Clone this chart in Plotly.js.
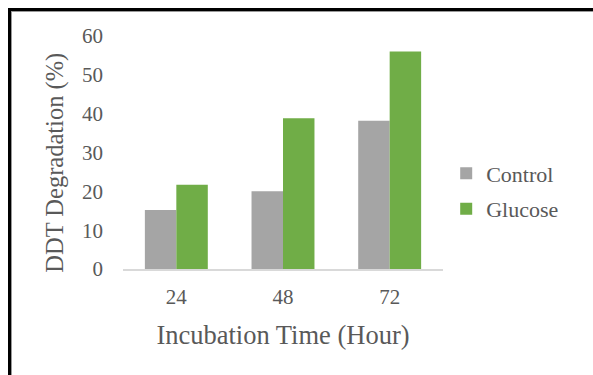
<!DOCTYPE html>
<html>
<head>
<meta charset="utf-8">
<script src="https://cdn.plot.ly/plotly-3.0.1.min.js"></script>
<style>
html,body{margin:0;padding:0;background:#fff;}
#wrap{position:relative;width:593px;height:375px;overflow:hidden;}
#chart{position:absolute;left:0;top:0;width:593px;height:375px;}
#frame{position:absolute;left:8px;top:8px;width:700px;height:500px;border-left:3px solid #000;border-top:3px solid #000;box-shadow:inset 1px 1px 0 #999;pointer-events:none;}
</style>
</head>
<body>
<div id="wrap"><div id="chart"></div><div id="frame"></div></div>
<script>
const categories = ["24", "48", "72"];
const controlValues = [15.2, 20.0, 38.2];
const glucoseValues = [21.7, 38.8, 56.0];
const yTicks = [0, 10, 20, 30, 40, 50, 60];
const xTitle = "Incubation Time (Hour)";
const yTitle = "DDT Degradation (%)";

const font = "Liberation Serif";
const txt = "#595959";

const data = [
  {type: "bar", name: "Control", legendgroup: "a", x: categories, y: controlValues, marker: {color: "#a5a5a5"}},
  {type: "bar", name: "Glucose", legendgroup: "b", x: categories, y: glucoseValues, marker: {color: "#70ad47"}}
];

const layout = {
  width: 593, height: 375,
  margin: {l: 123, r: 150, t: 36, b: 106},
  paper_bgcolor: "#fff", plot_bgcolor: "#fff",
  barmode: "group", bargap: 0.41, bargroupgap: 0,
  font: {family: font, color: txt, size: 21},
  showlegend: true,
  legend: {x: 1.01, y: 0.333, xanchor: "left", yanchor: "middle", traceorder: "grouped",
           font: {family: font, size: 22, color: txt}, tracegroupgap: 4, itemwidth: 30},
  xaxis: {type: "category", showline: true, linecolor: "#d9d9d9", linewidth: 1.5,
          ticks: "", showgrid: false, zeroline: false, ticklabelstandoff: 8,
          tickfont: {family: font, size: 21, color: txt},
          title: {text: xTitle, font: {family: font, size: 26.5, color: txt}, standoff: 17}},
  yaxis: {range: [0, 60], tickvals: yTicks, showgrid: false, zeroline: false, showline: false,
          ticks: "", ticklabelstandoff: 19,
          tickfont: {family: font, size: 21, color: txt}},
  annotations: [{
    text: yTitle, xref: "paper", yref: "paper", x: -0.215, y: 0.457,
    xanchor: "center", yanchor: "middle", textangle: -90, showarrow: false,
    font: {family: font, size: 24.5, color: txt}
  }]
};

Plotly.newPlot("chart", data, layout, {displayModeBar: false, staticPlot: true});
</script>
</body>
</html>
